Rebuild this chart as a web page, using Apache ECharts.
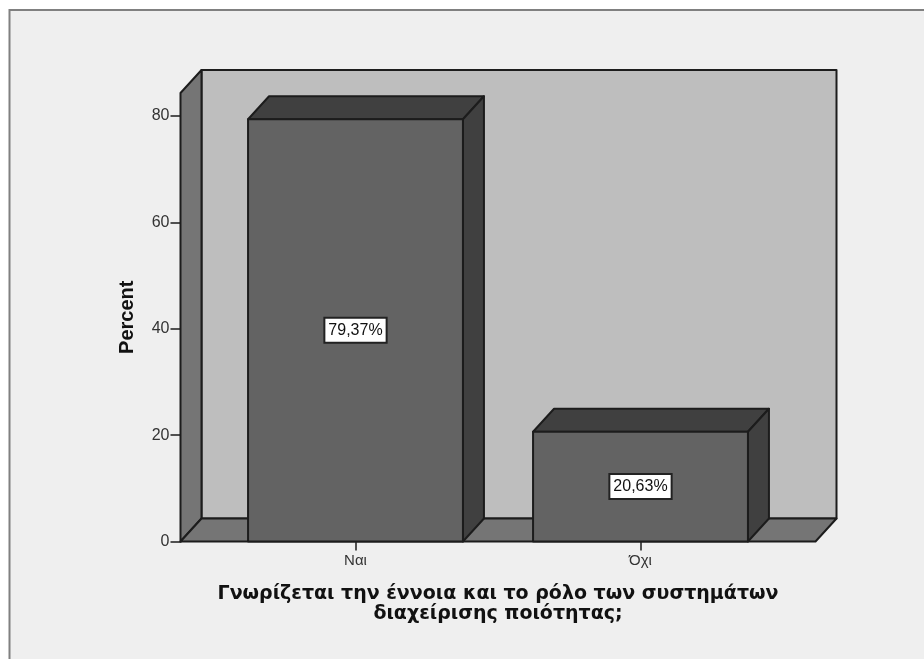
<!DOCTYPE html>
<html>
<head>
<meta charset="utf-8">
<style>
  html, body { margin: 0; padding: 0; background: #fff; }
  #chart { width: 924px; height: 659px; }
</style>
</head>
<body>
<div id="chart"></div>
<script src="https://cdn.jsdelivr.net/npm/echarts@6/dist/echarts.min.js"></script>
<script>
const categories = ['Ναι', 'Όχι'];
const percents = [79.37, 20.63];
const percentLabels = ['79,37%', '20,63%'];
const yTicks = [0, 20, 40, 60, 80];
const yMax = 84.3;
const xTitle = 'Γνωρίζεται την έννοια και το ρόλο των συστημάτων\nδιαχείρισης ποιότητας;';

// 3d look
const depthX = 21;
const depthY = 23;
const sidePad = 32.5;
const barRatio = 0.754;
const edge = '#1c1c1c';

const chart = echarts.init(document.getElementById('chart'));

function face(points, fill) {
  return {
    type: 'polygon',
    shape: { points },
    style: { fill, stroke: edge, lineWidth: 2, lineJoin: 'round' }
  };
}

// back wall, left wall and floor
function renderWalls(params) {
  const c = params.coordSys;
  const l = c.x - sidePad;
  const r = c.x + c.width + sidePad;
  const t = c.y;
  const b = c.y + c.height;
  return {
    type: 'group',
    children: [
      face([[l + depthX, t - depthY], [r + depthX, t - depthY], [r + depthX, b - depthY], [l + depthX, b - depthY]], '#bebebe'),
      face([[l, t], [l + depthX, t - depthY], [l + depthX, b - depthY], [l, b]], '#757575'),
      face([[l, b], [l + depthX, b - depthY], [r + depthX, b - depthY], [r, b]], '#757575')
    ]
  };
}

function renderBar(params, api) {
  const i = api.value(0);
  const top = api.coord([i, api.value(1)]);
  const base = api.coord([i, 0]);
  const w = api.size([1, 0])[0] * barRatio;
  const l = top[0] - w / 2;
  const r = top[0] + w / 2;
  return {
    type: 'group',
    children: [
      face([[l, top[1]], [l + depthX, top[1] - depthY], [r + depthX, top[1] - depthY], [r, top[1]]], '#404040'),
      face([[r, top[1]], [r + depthX, top[1] - depthY], [r + depthX, base[1] - depthY], [r, base[1]]], '#404040'),
      face([[l, top[1]], [r, top[1]], [r, base[1]], [l, base[1]]], '#636363'),
      {
        type: 'text',
        x: top[0],
        y: (top[1] + base[1]) / 2,
        style: {
          text: percentLabels[i],
          align: 'center',
          verticalAlign: 'middle',
          font: '16px "Liberation Sans", Arial, sans-serif',
          fill: '#111',
          backgroundColor: '#fff',
          borderColor: '#222',
          borderWidth: 2,
          padding: [4, 3, 3, 3]
        }
      }
    ]
  };
}

chart.setOption({
  backgroundColor: '#fff',
  animation: false,
  textStyle: { fontFamily: '"Liberation Sans", Arial, sans-serif' },
  graphic: [{
    type: 'rect',
    shape: { x: 9.5, y: 10, width: 940, height: 680 },
    style: { fill: '#efefef', stroke: '#808080', lineWidth: 2 },
    silent: true
  }],
  grid: { left: 213, top: 93, width: 570, height: 448.5 },
  xAxis: {
    type: 'category',
    data: categories,
    name: xTitle,
    nameLocation: 'middle',
    nameGap: 43,
    nameTextStyle: {
      fontFamily: '"DejaVu Sans", sans-serif',
      fontWeight: 'bold',
      fontSize: 19,
      lineHeight: 20,
      color: '#111'
    },
    // the floor's front edge is the baseline
    axisLine: { show: false },
    axisTick: { show: true, alignWithLabel: true, length: 9, lineStyle: { color: edge, width: 1.5 } },
    axisLabel: { fontSize: 15, color: '#333', margin: 12 }
  },
  yAxis: {
    type: 'value',
    min: 0,
    max: yMax,
    offset: sidePad,
    name: 'Percent',
    nameLocation: 'middle',
    nameGap: 43,
    nameTextStyle: { fontWeight: 'bold', fontSize: 20, color: '#111' },
    splitLine: { show: false },
    axisLine: { show: true, lineStyle: { color: edge, width: 2 } },
    axisTick: { show: true, length: 10, customValues: yTicks, lineStyle: { color: edge, width: 1.5 } },
    axisLabel: { fontSize: 16, color: '#333', margin: 11, customValues: yTicks }
  },
  series: [
    {
      type: 'custom',
      clip: false,
      silent: true,
      renderItem: renderWalls,
      data: [[0, 0]]
    },
    {
      type: 'custom',
      clip: false,
      silent: true,
      renderItem: renderBar,
      encode: { x: 0, y: 1 },
      data: categories.map((c, i) => [i, percents[i]])
    }
  ]
});
</script>
</body>
</html>
